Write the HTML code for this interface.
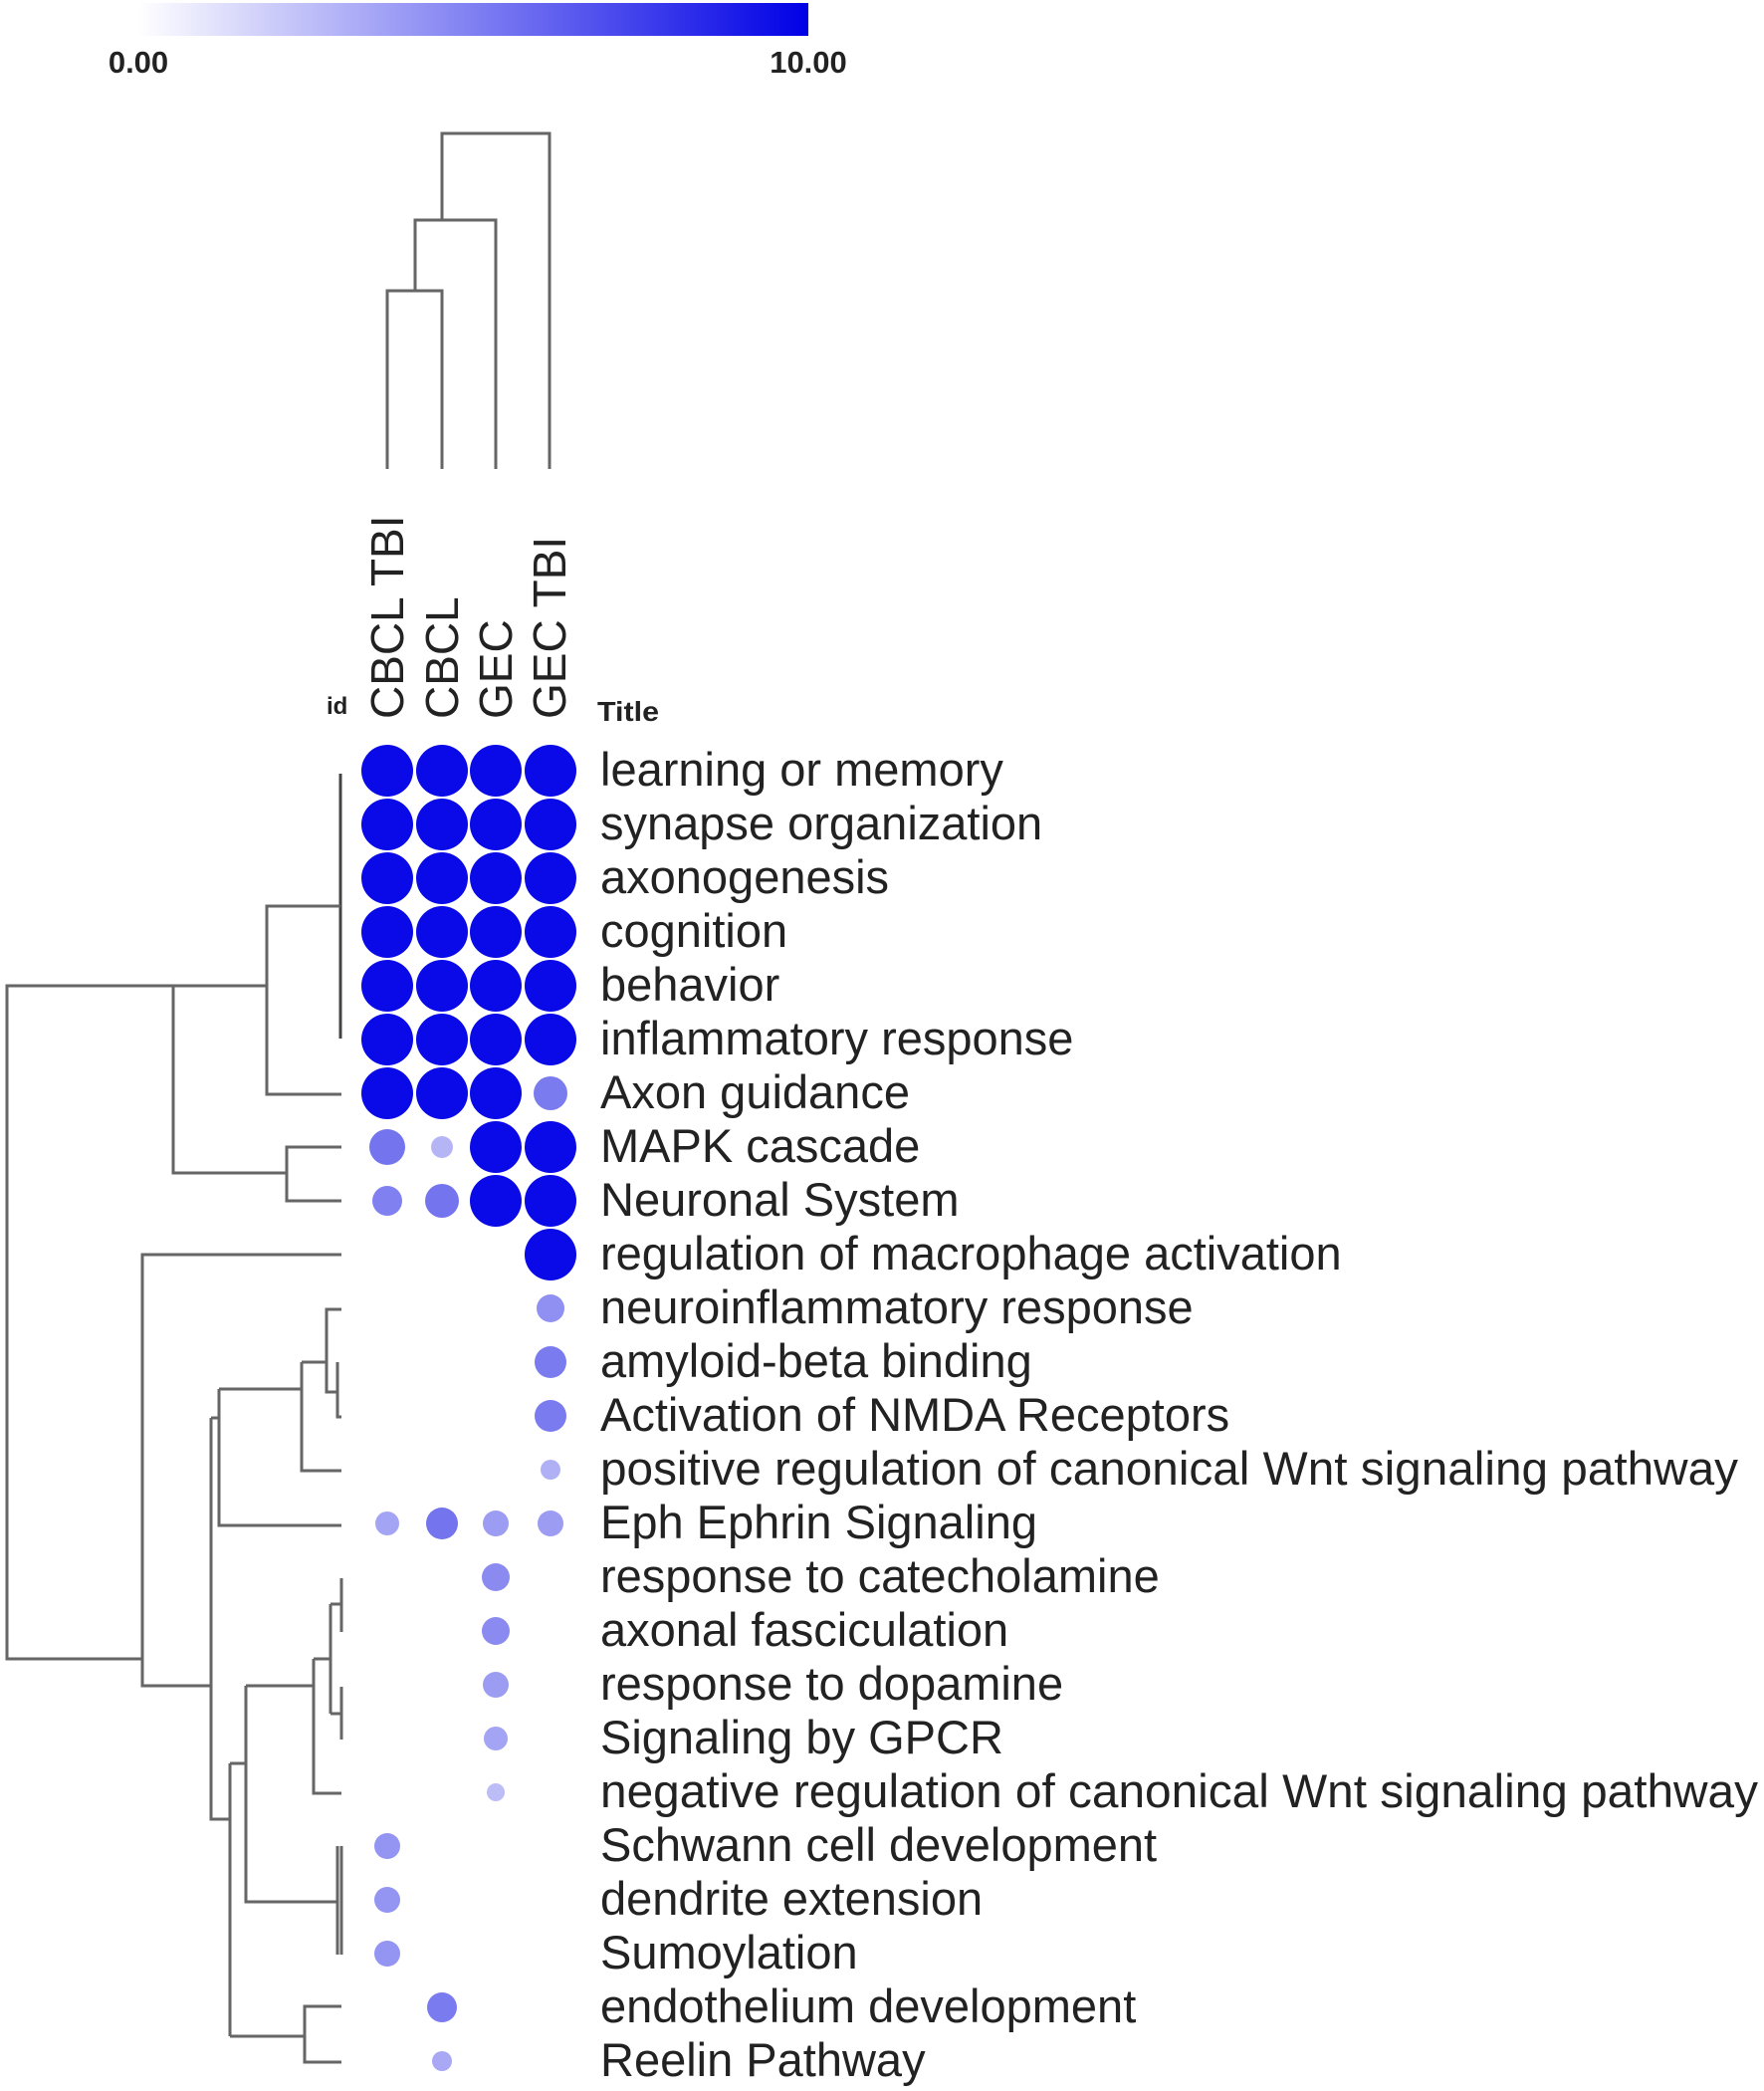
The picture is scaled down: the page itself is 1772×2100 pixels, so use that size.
<!DOCTYPE html>
<html><head><meta charset="utf-8"><style>
html,body{margin:0;padding:0;background:#fff;}
svg{display:block;}
text{font-family:"Liberation Sans",Arial,sans-serif;}
</style></head><body>
<svg width="1772" height="2100" viewBox="0 0 1772 2100" xmlns="http://www.w3.org/2000/svg">
<defs><linearGradient id="g" x1="0" x2="1" y1="0" y2="0"><stop offset="0" stop-color="#ffffff"/><stop offset="1" stop-color="#0000e6"/></linearGradient></defs>
<rect x="139" y="3" width="673" height="33" fill="url(#g)"/>
<text x="139" y="73" font-size="31" font-weight="bold" text-anchor="middle" fill="#222">0.00</text>
<text x="812" y="73" font-size="31" font-weight="bold" text-anchor="middle" fill="#222">10.00</text>

<g stroke="#666" stroke-width="3" fill="none">
<polyline points="389,471 389,292 444,292 444,471"/>
<polyline points="417,292 417,221 498,221 498,471"/>
<polyline points="444,221 444,134 552,134 552,471"/>
<line x1="342" y1="777" x2="342" y2="1043" stroke="#444"/>
<polyline points="342,910 268,910 268,1099 343,1099"/>
<polyline points="343,1152 288,1152 288,1206 343,1206"/>
<polyline points="268,990 174,990 174,1178 288,1178"/>
<polyline points="174,990 7,990 7,1666 143,1666"/>
<polyline points="343,1260 143,1260 143,1693 212,1693"/>
<polyline points="212,1424 212,1827 231,1827"/>
<polyline points="212,1424 220,1424"/>
<polyline points="220,1395 220,1532 343,1532"/>
<polyline points="220,1395 303,1395"/>
<polyline points="303,1368 303,1477 343,1477"/>
<polyline points="303,1368 328,1368"/>
<polyline points="343,1315 328,1315 328,1398 339,1398"/>
<polyline points="339,1368 339,1423 343,1423"/>
<polyline points="231,1771 231,2045"/>
<polyline points="231,1771 247,1771"/>
<polyline points="247,1693 247,1910 339,1910"/>
<polyline points="247,1693 315,1693"/>
<polyline points="315,1666 315,1801 343,1801"/>
<polyline points="315,1666 332,1666"/>
<polyline points="332,1611 332,1721"/>
<polyline points="332,1611 343,1611"/>
<polyline points="343,1585 343,1639"/>
<polyline points="332,1721 343,1721"/>
<polyline points="343,1694 343,1747"/>
<polyline points="339,1854 339,1963"/>
<polyline points="343,1854 343,1963"/>
<polyline points="231,2045 306,2045"/>
<polyline points="343,2015 306,2015 306,2071 343,2071"/>
</g>

<g font-size="46" fill="#222">
<text transform="translate(405,722) rotate(-90)">CBCL TBI</text>
<text transform="translate(460,722) rotate(-90)">CBCL</text>
<text transform="translate(514,722) rotate(-90)">GEC</text>
<text transform="translate(568,722) rotate(-90)">GEC TBI</text>
</g>
<text x="328" y="717" font-size="24" font-weight="bold" fill="#222">id</text>
<text x="600" y="724" font-size="28" font-weight="bold" fill="#222" textLength="62" lengthAdjust="spacingAndGlyphs">Title</text>

<g fill="#0a0ae8">
<circle cx="389" cy="774" r="26"/><circle cx="444" cy="774" r="26"/><circle cx="498" cy="774" r="26"/><circle cx="553" cy="774" r="26"/>
<circle cx="389" cy="828" r="26"/><circle cx="444" cy="828" r="26"/><circle cx="498" cy="828" r="26"/><circle cx="553" cy="828" r="26"/>
<circle cx="389" cy="882" r="26"/><circle cx="444" cy="882" r="26"/><circle cx="498" cy="882" r="26"/><circle cx="553" cy="882" r="26"/>
<circle cx="389" cy="936" r="26"/><circle cx="444" cy="936" r="26"/><circle cx="498" cy="936" r="26"/><circle cx="553" cy="936" r="26"/>
<circle cx="389" cy="990" r="26"/><circle cx="444" cy="990" r="26"/><circle cx="498" cy="990" r="26"/><circle cx="553" cy="990" r="26"/>
<circle cx="389" cy="1044" r="26"/><circle cx="444" cy="1044" r="26"/><circle cx="498" cy="1044" r="26"/><circle cx="553" cy="1044" r="26"/>
<circle cx="389" cy="1098" r="26"/><circle cx="444" cy="1098" r="26"/><circle cx="498" cy="1098" r="26"/>
<circle cx="498" cy="1152" r="26"/><circle cx="553" cy="1152" r="26"/>
<circle cx="498" cy="1206" r="26"/><circle cx="553" cy="1206" r="26"/>
<circle cx="553" cy="1260" r="26"/>
</g>
<circle cx="553" cy="1098" r="17" fill="#7b7bf0"/>
<circle cx="389" cy="1152" r="18" fill="#7474ee"/>
<circle cx="444" cy="1152" r="11" fill="#b5b5f6"/>
<circle cx="389" cy="1206" r="15" fill="#8080f0"/>
<circle cx="444" cy="1206" r="17" fill="#7474ee"/>
<circle cx="553" cy="1314" r="14" fill="#9090f2"/>
<circle cx="553" cy="1368" r="16" fill="#7b7bf0"/>
<circle cx="553" cy="1422" r="16" fill="#7b7bf0"/>
<circle cx="553" cy="1476" r="10" fill="#b0b0f6"/>
<circle cx="389" cy="1530" r="12" fill="#a4a4f4"/>
<circle cx="444" cy="1530" r="16" fill="#7474ee"/>
<circle cx="498" cy="1530" r="13" fill="#9c9cf3"/>
<circle cx="553" cy="1530" r="13" fill="#9c9cf3"/>
<circle cx="498" cy="1584" r="14" fill="#8a8af1"/>
<circle cx="498" cy="1638" r="14" fill="#8a8af1"/>
<circle cx="498" cy="1692" r="13" fill="#9c9cf3"/>
<circle cx="498" cy="1746" r="12" fill="#a4a4f4"/>
<circle cx="498" cy="1800" r="9" fill="#bcbcf7"/>
<circle cx="389" cy="1854" r="13" fill="#9494f2"/>
<circle cx="389" cy="1908" r="13" fill="#9494f2"/>
<circle cx="389" cy="1962" r="13" fill="#9494f2"/>
<circle cx="444" cy="2016" r="15" fill="#7b7bf0"/>
<circle cx="444" cy="2070" r="10" fill="#a8a8f5"/>

<g font-size="47" fill="#222">
<text x="603" y="789">learning or memory</text>
<text x="603" y="843">synapse organization</text>
<text x="603" y="897">axonogenesis</text>
<text x="603" y="951">cognition</text>
<text x="603" y="1005">behavior</text>
<text x="603" y="1059">inflammatory response</text>
<text x="603" y="1113">Axon guidance</text>
<text x="603" y="1167">MAPK cascade</text>
<text x="603" y="1221">Neuronal System</text>
<text x="603" y="1275">regulation of macrophage activation</text>
<text x="603" y="1329">neuroinflammatory response</text>
<text x="603" y="1383">amyloid-beta binding</text>
<text x="603" y="1437">Activation of NMDA Receptors</text>
<text x="603" y="1491" textLength="1143" lengthAdjust="spacingAndGlyphs">positive regulation of canonical Wnt signaling pathway</text>
<text x="603" y="1545">Eph Ephrin Signaling</text>
<text x="603" y="1599">response to catecholamine</text>
<text x="603" y="1653">axonal fasciculation</text>
<text x="603" y="1707">response to dopamine</text>
<text x="603" y="1761">Signaling by GPCR</text>
<text x="603" y="1815" textLength="1163" lengthAdjust="spacingAndGlyphs">negative regulation of canonical Wnt signaling pathway</text>
<text x="603" y="1869">Schwann cell development</text>
<text x="603" y="1923">dendrite extension</text>
<text x="603" y="1977">Sumoylation</text>
<text x="603" y="2031">endothelium development</text>
<text x="603" y="2085">Reelin Pathway</text>
</g>
</svg>
</body></html>
